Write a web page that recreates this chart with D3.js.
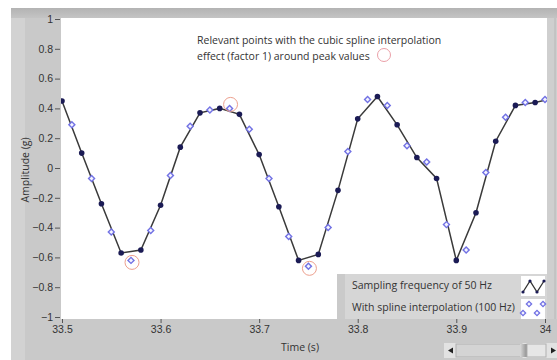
<!DOCTYPE html>
<html>
<head>
<meta charset="utf-8">
<script src="https://cdn.jsdelivr.net/npm/d3@7"></script>
<style>
  body { margin: 0; background: #fff; }
  svg { display: block; font-family: "Open Sans", sans-serif; }
</style>
</head>
<body>
<div id="chartContainer"></div>
<script>
// chart dimensions
const width = 557;
const height = 360;

// samples at 50 Hz (every 0.02 s)
const sampleTimes = [33.50, 33.52, 33.54, 33.56, 33.58, 33.60, 33.62, 33.64, 33.66, 33.68,
  33.70, 33.72, 33.74, 33.76, 33.78, 33.80, 33.82, 33.84, 33.86, 33.88,
  33.90, 33.92, 33.94, 33.96, 33.98, 34.00];
const sampleValues = [0.45, 0.10, -0.24, -0.57, -0.55, -0.25, 0.14, 0.37, 0.40, 0.36,
  0.09, -0.26, -0.62, -0.58, -0.15, 0.33, 0.48, 0.29, 0.07, -0.07,
  -0.62, -0.30, 0.18, 0.42, 0.44, 0.47];

// points added by the spline interpolation (100 Hz)
const splineTimes = [33.51, 33.53, 33.55, 33.57, 33.59, 33.61, 33.63, 33.65, 33.67, 33.69,
  33.71, 33.73, 33.75, 33.77, 33.79, 33.81, 33.83, 33.85, 33.87, 33.89,
  33.91, 33.93, 33.95, 33.97, 33.99];
const splineValues = [0.29, -0.07, -0.43, -0.62, -0.42, -0.05, 0.28, 0.39, 0.40, 0.26,
  -0.07, -0.46, -0.66, -0.40, 0.11, 0.46, 0.42, 0.15, 0.04, -0.38,
  -0.55, -0.03, 0.34, 0.44, 0.46];

// spline points around peaks that get a circle
const peakTimes = [33.57, 33.67, 33.75];

// axis ticks
const xTicks = [33.5, 33.6, 33.7, 33.8, 33.9, 33.99];
const yTicks = [1, 0.8, 0.6, 0.4, 0.2, 0, -0.2, -0.4, -0.6, -0.8, -1];

const legendLabels = ["Sampling frequency of 50 Hz", "With spline interpolation (100 Hz)"];
const noteLines = ["Relevant points with the cubic spline interpolation",
  "effect (factor 1) around peak values"];

// plot area
const plot = { left: 61, right: 547, top: 18, bottom: 319 };

const x = d3.scaleLinear().domain([33.5, 33.99]).range([62, 545]);
const y = d3.scaleLinear().domain([-1, 1]).range([317, 19]);

const svg = d3.select("#chartContainer")
  .append("svg")
  .attr("width", width)
  .attr("height", height);

const defs = svg.append("defs");
const topGrad = defs.append("linearGradient").attr("id", "topGrad")
  .attr("x1", 0).attr("x2", 0).attr("y1", 0).attr("y2", 1);
topGrad.append("stop").attr("offset", 0).attr("stop-color", "#b3b3b3");
topGrad.append("stop").attr("offset", 1).attr("stop-color", "#c4c4c4");
const thumbGrad = defs.append("linearGradient").attr("id", "thumbGrad")
  .attr("x1", 0).attr("x2", 1).attr("y1", 0).attr("y2", 0);
thumbGrad.append("stop").attr("offset", 0).attr("stop-color", "#d9d9d9");
thumbGrad.append("stop").attr("offset", 1).attr("stop-color", "#8f8f8f");
defs.append("clipPath").attr("id", "plotClip")
  .append("rect")
  .attr("x", plot.left).attr("y", plot.top)
  .attr("width", plot.right - plot.left).attr("height", plot.bottom - plot.top);

// gray frame of the graph
svg.append("rect").attr("x", 11).attr("y", 8).attr("width", width - 11).attr("height", height - 8)
  .attr("fill", "#c9c9c9");
svg.append("rect").attr("x", 11).attr("y", 8).attr("width", 14).attr("height", height - 8)
  .attr("fill", "#d2d2d2");
svg.append("rect").attr("x", 11).attr("y", 8).attr("width", width - 11).attr("height", 10)
  .attr("fill", "url(#topGrad)");
svg.append("rect").attr("x", plot.right).attr("y", 18).attr("width", 10).attr("height", 301)
  .attr("fill", "#cfcfcf");
svg.append("line").attr("x1", 555).attr("x2", 555).attr("y1", 18).attr("y2", 319)
  .attr("stroke", "#b8b8b8");

// plot background
svg.append("rect")
  .attr("x", plot.left).attr("y", plot.top)
  .attr("width", plot.right - plot.left).attr("height", plot.bottom - plot.top)
  .attr("fill", "#fff");

// y axis
const yAxis = svg.append("g")
  .attr("transform", `translate(${plot.left - 1},0)`)
  .call(d3.axisLeft(y).tickValues(yTicks).tickSize(5).tickPadding(2)
    .tickFormat(d3.format("~g")));
yAxis.select(".domain").remove();
yAxis.selectAll(".tick line").attr("stroke", "#555");
yAxis.selectAll(".tick text").attr("fill", "#333").style("font-size", "10.5px");

// x axis
const xAxis = svg.append("g")
  .attr("transform", `translate(0,${plot.bottom})`)
  .call(d3.axisBottom(x).tickValues(xTicks).tickSize(4).tickPadding(3)
    .tickFormat(d3.format(".3~g")));
xAxis.select(".domain").remove();
xAxis.selectAll(".tick line").attr("stroke", "#555");
xAxis.selectAll(".tick text").attr("fill", "#333").style("font-size", "10.5px");

// axis titles
svg.append("text")
  .attr("transform", "translate(29,170) rotate(-90)")
  .attr("text-anchor", "middle")
  .attr("fill", "#333")
  .style("font-size", "10.5px")
  .text("Amplitude (g)");
svg.append("text")
  .attr("x", 300).attr("y", 351)
  .attr("text-anchor", "middle")
  .attr("fill", "#333")
  .style("font-size", "10.5px")
  .text("Time (s)");

// data points
const samples = sampleTimes.map((t, i) => ({ t: t, v: sampleValues[i] }));
const splinePts = splineTimes.map((t, i) => ({ t: t, v: splineValues[i] }));

const plotG = svg.append("g").attr("clip-path", "url(#plotClip)");

const line = d3.line().x((d) => x(d.t)).y((d) => y(d.v));

plotG.append("path")
  .datum(samples)
  .attr("d", line)
  .attr("fill", "none")
  .attr("stroke", "#3a3a3a")
  .attr("stroke-width", 1.5);

// hollow diamond marker (square turned 45 degrees)
const diamond = d3.symbol().type(d3.symbolSquare).size(18);

plotG.selectAll("path.spline")
  .data(splinePts)
  .enter()
  .append("path")
  .attr("class", "spline")
  .attr("d", diamond)
  .attr("transform", (d) => `translate(${x(d.t)},${y(d.v)}) rotate(45)`)
  .attr("fill", "#f4f4ff")
  .attr("stroke", "#7272e4")
  .attr("stroke-width", 1.4);

plotG.selectAll("circle.sample")
  .data(samples)
  .enter()
  .append("circle")
  .attr("class", "sample")
  .attr("cx", (d) => x(d.t))
  .attr("cy", (d) => y(d.v))
  .attr("r", 2.8)
  .attr("fill", "#1b1b55");

// circles around the interpolated peak points
plotG.selectAll("circle.peak")
  .data(splinePts.filter((d) => peakTimes.includes(d.t)))
  .enter()
  .append("circle")
  .attr("class", "peak")
  .attr("cx", (d) => x(d.t) + 1)
  .attr("cy", (d) => y(d.v) + (d.v > 0 ? -4 : 2))
  .attr("r", 7)
  .attr("fill", "none")
  .attr("stroke", "#eda08e")
  .attr("stroke-width", 1);

// annotation text
svg.append("text")
  .attr("x", 197).attr("y", 44)
  .attr("fill", "#333")
  .style("font-size", "10.5px")
  .selectAll("tspan")
  .data(noteLines)
  .enter()
  .append("tspan")
  .attr("x", 197)
  .attr("dy", (d, i) => (i === 0 ? 0 : 16))
  .text((d) => d);
svg.append("circle")
  .attr("cx", 384).attr("cy", 55).attr("r", 6.5)
  .attr("fill", "none").attr("stroke", "#eba0a8").attr("stroke-width", 1);

// legend
svg.append("rect").attr("x", 337).attr("y", 274).attr("width", 210).attr("height", 45)
  .attr("fill", "#d6d6d6");
svg.append("rect").attr("x", 337).attr("y", 274).attr("width", 8).attr("height", 45)
  .attr("fill", "#cacaca");
svg.selectAll("text.legend")
  .data(legendLabels)
  .enter()
  .append("text")
  .attr("class", "legend")
  .attr("x", 352)
  .attr("y", (d, i) => 289 + i * 22)
  .attr("fill", "#333")
  .style("font-size", "10.5px")
  .text((d) => d);
svg.selectAll("rect.icon")
  .data(legendLabels)
  .enter()
  .append("rect")
  .attr("class", "icon")
  .attr("x", 521)
  .attr("y", (d, i) => 276 + i * 23)
  .attr("width", 24)
  .attr("height", 20)
  .attr("fill", "#fff");

// legend icon for the sampled series
const iconLine = [[523, 292], [530, 281], [537, 292], [544, 281]];
svg.append("path")
  .attr("d", d3.line()(iconLine))
  .attr("fill", "none").attr("stroke", "#333").attr("stroke-width", 1.3);
svg.selectAll("circle.iconDot")
  .data(iconLine)
  .enter()
  .append("circle")
  .attr("class", "iconDot")
  .attr("cx", (d) => d[0]).attr("cy", (d) => d[1]).attr("r", 1.6)
  .attr("fill", "#1b1b55");

// legend icon for the spline series
const iconMarks = [[529, 304], [543, 304], [523, 313], [537, 313]];
svg.selectAll("path.iconMark")
  .data(iconMarks)
  .enter()
  .append("path")
  .attr("class", "iconMark")
  .attr("d", d3.symbol().type(d3.symbolSquare).size(14))
  .attr("transform", (d) => `translate(${d[0]},${d[1]}) rotate(45)`)
  .attr("fill", "#f4f4ff").attr("stroke", "#7272e4").attr("stroke-width", 1.3);

// scrollbar at the bottom
svg.append("rect").attr("x", 444).attr("y", 343).attr("width", 113).attr("height", 15)
  .attr("fill", "#e2e2e2");
svg.append("rect").attr("x", 456).attr("y", 344).attr("width", 66).attr("height", 13)
  .attr("fill", "#d4d4d4").attr("stroke", "#b0b0b0");
svg.append("rect").attr("x", 520).attr("y", 344).attr("width", 7).attr("height", 13)
  .attr("fill", "url(#thumbGrad)");
svg.append("rect").attr("x", 527).attr("y", 344).attr("width", 19).attr("height", 13)
  .attr("fill", "#e6e6e6").attr("stroke", "#b0b0b0");
svg.append("path").attr("d", "M448,350.5L453,347.5L453,353.5Z").attr("fill", "#222");
svg.append("path").attr("d", "M556,350.5L551,347.5L551,353.5Z").attr("fill", "#222");
</script>
</body>
</html>
